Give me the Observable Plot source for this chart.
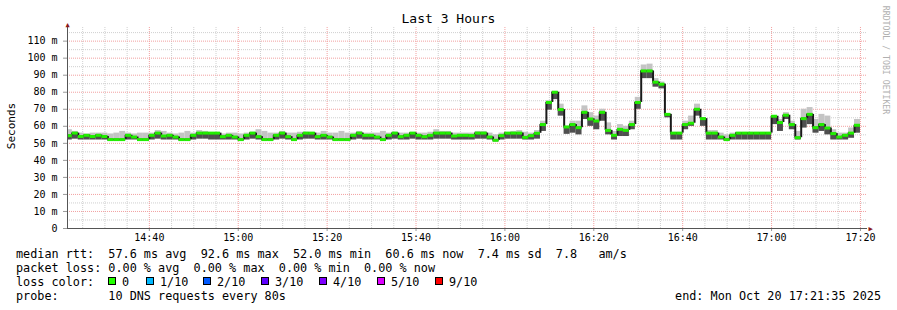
<!DOCTYPE html>
<html>
<head>
<meta charset="utf-8">
<script src="https://cdn.jsdelivr.net/npm/d3@7"></script>
<script src="https://cdn.jsdelivr.net/npm/@observablehq/plot@0.6"></script>
<style>
  html, body { margin: 0; padding: 0; background: #fff; }
  body { width: 897px; height: 310px; position: relative; overflow: hidden; font-family: "DejaVu Sans Mono", monospace; color: #000; }
  #chart { position: absolute; left: 0; top: 0; }
  .txt { position: absolute; white-space: pre; font-size: 11.8px; line-height: 14px; }
  .box { position: absolute; width: 6px; height: 6px; border: 1px solid #000; }
  #title { position: absolute; top: 11px; left: 0; width: 897px; text-align: center; font-size: 13px; line-height: 16px; }
  #ylabel { position: absolute; left: 11px; top: 126px; font-size: 11px; transform: translate(-50%, -50%) rotate(-90deg); white-space: pre; }
  #mark { position: absolute; left: 886px; top: 60px; font-size: 8.2px; color: #b0b0b0; transform: translate(-50%, -50%) rotate(90deg); white-space: pre; }
</style>
</head>
<body>
<div id="title"></div>
<div id="chart"></div>
<div id="ylabel"></div>
<div id="mark"></div>
<div id="legend"></div>
<script>
// ---------------- data ----------------
const titleText = "Last 3 Hours";
const yAxisLabel = "Seconds";
const watermark = "RRDTOOL / TOBI OETIKER";
const endTimeText = "2025-10-20T17:21:35Z";
const startTimeText = "2025-10-20T14:21:35Z";
const firstStepText = "2025-10-20T14:21:20Z";
const stepSeconds = 80;

const xTickLabels = ["14:40", "15:00", "15:20", "15:40", "16:00", "16:20", "16:40", "17:00", "17:20"];
const yTickValues = [0, 10, 20, 30, 40, 50, 60, 70, 80, 90, 100, 110];
const yMinorValues = [5, 15, 25, 35, 45, 55, 65, 75, 85, 95, 105, 115];

// median RTT per 80 s step (ms)
const medianRtt = [
  54.5, 56, 54, 54.7, 54, 54.7, 54, 52.2, 52.2, 52.2,
  54.7, 53.7, 52.2, 52.2, 54.7, 56, 54.3, 54.7, 53.7, 52.2,
  52.2, 54.7, 56, 56, 56, 56, 53.9, 54.7, 53.7, 52.2,
  54.7, 56, 53.9, 52.2, 52.2, 54.7, 56, 53.9, 52.2, 54.7,
  56, 56, 53.9, 54.7, 53.7, 52.2, 52.2, 52.2, 54.7, 56,
  54.7, 54.7, 53.7, 52.2, 54.7, 56, 53.9, 54.7, 56, 54.7,
  53.9, 54.7, 56, 56, 56, 54.3, 54.7, 54.7, 54.5, 56,
  56, 53.7, 51.8, 54.5, 56, 56, 56, 53.5, 54.5, 55.9,
  61, 74, 80, 69.8, 59.6, 61, 59.2, 68.2, 64.3, 63.1,
  68.2, 57.6, 54.7, 58.2, 57.6, 61, 74, 92.5, 92.5, 85.9,
  84.7, 67, 56, 56, 61, 61.8, 70, 64.5, 56, 56,
  53.7, 52.2, 54.7, 56, 56, 56, 56, 56, 56, 65.9,
  62.2, 66.5, 61, 53.3, 64.5, 67, 59.2, 61, 59, 55.7,
  53.7, 54.7, 56, 60.6
];
// lowest ping per step (ms)
const minRtt = [
  52, 52.5, 52, 52, 52, 52, 52, 51.8, 52, 52,
  52, 52, 51.8, 52, 52, 52.5, 52, 52, 52, 51.8,
  52, 52, 52.5, 52.5, 52, 52, 52, 52, 52, 51.8,
  52, 52.5, 52, 51.8, 52, 52, 52.5, 52, 51.8, 52,
  52.5, 52.5, 52, 52, 52, 51.8, 52, 52, 52, 52.5,
  52, 52, 52, 51.8, 52, 52.5, 52, 52, 52.5, 52,
  52, 52, 52.5, 52.5, 52.5, 52, 52, 52, 52, 52.5,
  52.5, 52, 51.5, 52, 52.5, 52.5, 52.5, 52, 52, 52.5,
  57, 69.5, 75.7, 66, 55.3, 56, 55, 64, 60, 58,
  63, 55, 52, 54, 54, 58, 70, 88, 88, 83,
  82, 65, 52, 52, 58, 60, 66, 60, 52, 52,
  52, 51.5, 52, 52, 52, 52, 52, 52, 52, 61,
  57, 64, 58, 52, 59, 61, 56, 57, 55, 52,
  52, 52, 53, 56
];
// highest ping per step (ms)
const maxRtt = [
  58, 57, 56, 55.5, 56, 56, 56, 55.5, 56, 57,
  56, 55.5, 56, 56, 56, 57.5, 57, 56, 55.5, 56,
  57, 56, 57.5, 57, 56, 56, 55.5, 56, 56, 55.5,
  56, 56.5, 58, 57, 56, 56, 57, 56, 56, 56.5,
  56.5, 56, 56, 57, 56, 56, 57, 56, 56, 57,
  56, 56, 56, 57, 56, 56.5, 56, 56, 56, 56,
  56, 56.5, 58, 57, 57, 56, 56, 56, 56, 57,
  57, 56, 55, 56, 56, 57, 57.5, 56.5, 56, 57.5,
  63, 75, 80.5, 73, 60, 63, 63, 72, 68, 66,
  70, 62, 57, 61, 60, 63, 77, 96, 96.5, 88,
  86, 67.5, 56, 56, 63, 66, 73, 65, 57.5, 57.5,
  56, 55, 56, 56, 56, 56, 56, 56, 56, 66,
  64, 68, 63, 57, 70, 71, 64, 67, 66, 58,
  56, 56, 59, 64
];

const statsLine1 = "median rtt:  57.6 ms avg  92.6 ms max  52.0 ms min  60.6 ms now  7.4 ms sd  7.8   am/s";
const statsLine2 = "packet loss: 0.00 % avg  0.00 % max  0.00 % min  0.00 % now";
const lossLabel = "loss color:";
const lossNames = ["0", "1/10", "2/10", "3/10", "4/10", "5/10", "9/10"];
const lossColors = ["#22ff00", "#00b8ff", "#0059ff", "#5e00ff", "#7e00ff", "#dd00ff", "#ff0000"];
const probeLine = "probe:       10 DNS requests every 80s";
const endLine = "end: Mon Oct 20 17:21:35 2025";

// ---------------- build ----------------
const endTime = new Date(endTimeText);
const startTime = new Date(startTimeText);
const firstStep = new Date(firstStepText);
const steps = medianRtt.map((m, i) => ({
  t0: new Date(+firstStep + i * stepSeconds * 1000),
  t1: new Date(+firstStep + (i + 1) * stepSeconds * 1000),
  med: m, lo: minRtt[i], hi: maxRtt[i]
}));
const joins = steps.slice(0, -1).map((s, i) => ({t: s.t1, a: s.med, b: steps[i + 1].med}));

const xMajor = xTickLabels.map(s => new Date("2025-10-20T" + s + ":00Z"));
const xMinor = d3.utcMinute.every(5).range(startTime, endTime).filter(d => d.getUTCMinutes() % 20 !== 0);

const gridGray = "#cfcfcf";
const gridRed = "#f2a0a0";
const axisColor = "#555";
const arrowColor = "#8b1a1a";

const chart = Plot.plot({
  width: 897,
  height: 245,
  marginLeft: 67,
  marginRight: 30,
  marginTop: 27,
  marginBottom: 17,
  style: {fontFamily: "DejaVu Sans Mono, monospace", fontSize: "10px", background: "transparent", color: "#000", overflow: "visible"},
  x: {type: "utc", domain: [startTime, endTime]},
  y: {domain: [0, 118]},
  marks: [
    Plot.ruleX(xMinor, {stroke: gridGray, strokeDasharray: "1,1"}),
    Plot.ruleY(yMinorValues, {stroke: gridGray, strokeDasharray: "1,1"}),
    Plot.ruleX(xMajor, {stroke: gridRed, strokeDasharray: "1,1"}),
    Plot.ruleY(yTickValues.filter(v => v > 0), {stroke: gridRed, strokeDasharray: "1,1"}),
    Plot.axisY(yTickValues, {tickFormat: d => d === 0 ? "0" : d + " m", tickSize: 4, tickPadding: 6, stroke: "#999", label: null}),
    Plot.axisX(xMajor, {tickFormat: d3.utcFormat("%H:%M"), tickSize: 3, tickPadding: 2, stroke: "#999", label: null}),
    Plot.rect(steps, {x1: "t0", x2: "t1", y1: "lo", y2: "hi", fill: "#c4c4c4", clip: true}),
    Plot.rect(steps, {x1: "t0", x2: "t1", y1: "lo", y2: "med", fill: "#4f4f4f", clip: true}),
    Plot.ruleX(joins, {x: "t", y1: "a", y2: "b", stroke: "#1a1a1a", strokeWidth: 2, clip: true}),
    Plot.ruleY(steps, {x1: "t0", x2: "t1", y: "med", stroke: "#1a1a1a", strokeWidth: 2, clip: true}),
    Plot.ruleY(steps, {x1: "t0", x2: "t1", y: "med", stroke: "#22ee00", strokeWidth: 3, clip: true}),
    Plot.ruleY([0], {stroke: axisColor, strokeWidth: 1}),
    Plot.ruleX([startTime], {stroke: axisColor, strokeWidth: 1}),
    Plot.text([endTime], {x: d => d, y: () => 0, text: () => "\u25B6", fill: arrowColor, fontSize: 7, dx: 3}),
    Plot.text([startTime], {x: d => d, y: () => 118, text: () => "\u25B2", fill: arrowColor, fontSize: 7, dy: -3})
  ]
});
document.getElementById("chart").appendChild(chart);

document.getElementById("title").textContent = titleText;
document.getElementById("ylabel").textContent = yAxisLabel;
document.getElementById("mark").textContent = watermark;

const legend = document.getElementById("legend");
function addText(str, left, top, extra) {
  const el = document.createElement("div");
  el.className = "txt";
  el.textContent = str;
  el.style.left = left + "px";
  el.style.top = top + "px";
  if (extra) Object.assign(el.style, extra);
  legend.appendChild(el);
  return el;
}
addText(statsLine1, 16, 247);
addText(statsLine2, 16, 261);
addText(lossLabel, 16, 275);
const boxX = [108, 146, 203, 261, 319, 377, 435];
lossNames.forEach((n, i) => {
  const b = document.createElement("div");
  b.className = "box";
  b.style.left = boxX[i] + "px";
  b.style.top = "277px";
  b.style.background = lossColors[i];
  legend.appendChild(b);
  addText(n, boxX[i] + 14, 275);
});
addText(probeLine, 16, 289);
addText(endLine, 0, 289, {left: "auto", right: "16px"});
</script>
</body>
</html>
